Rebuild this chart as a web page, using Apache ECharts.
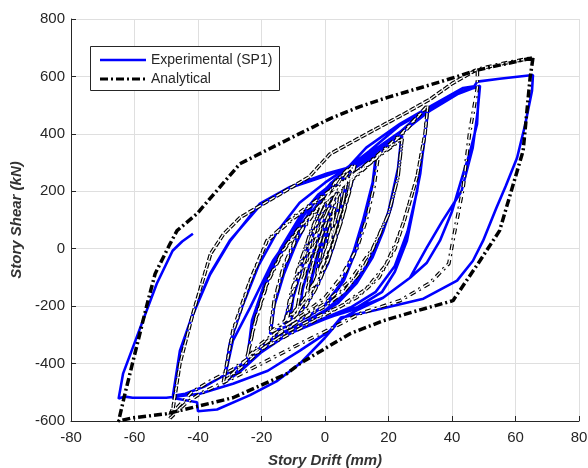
<!DOCTYPE html>
<html>
<head>
<meta charset="utf-8">
<script src="https://cdn.jsdelivr.net/npm/echarts@6/dist/echarts.min.js"></script>
<style>
html,body{margin:0;padding:0;background:#fff;}
#chart{width:588px;height:468px;}
</style>
</head>
<body>
<div id="chart"></div>
<script>
// ---------- axis ticks ----------
const xTicks = [-80, -60, -40, -20, 0, 20, 40, 60, 80];
const yTicks = [-600, -400, -200, 0, 200, 400, 600, 800];

// ---------- Experimental (SP1) : [drift mm, shear kN] ----------
const expSmallA = [[0,0],[1,55],[2,105],[3,145],[2.3,80],[1,15],[-1,-55],[-2,-95],[-3,-125],[-2.2,-60],[-1,-5],[0.5,60],[2,115],[3,140],[2.2,75],[0.5,0],[-2,-90],[-4,-150],[-5,-170],[-4.2,-100],[-2.5,-20],[0,80],[2,150],[4,200],[5,220],[4.3,150],[2,50],[-1,-70],[-3,-140],[-5,-175]];
const expSmallB = [[-4,-100],[-2,-10],[1,100],[3,170],[5.5,235],[7,262],[6,190],[3.5,80],[0,-50],[-4,-150],[-7,-205],[-8,-215],[-7,-140],[-4.5,-40],[-1,80],[3,190],[6,250],[7.5,270],[6.5,200],[3.5,70],[-1,-80],[-5,-170],[-9,-230],[-11,-248],[-10,-170],[-7,-60],[-3,70],[2,190],[6,262],[9,290],[8,220],[5,100],[1,-50],[-4,-160],[-8,-220],[-12,-255]];
const expSmallC = [[-10.5,-170],[-8,-70],[-4.5,50],[-1,150],[3,225],[6.5,265],[9.5,295],[8.5,230],[6,130],[2.5,0],[-2,-120],[-6,-200],[-10,-240],[-13,-262]];
const expCycle16 = [[-11,-180],[-8,-70],[-5,40],[-1,150],[4,230],[9,280],[13,310],[16.4,330],[15.5,250],[13,120],[10,0],[6,-110],[1,-190],[-5,-235],[-10,-260],[-14,-280],[-17.3,-296],[-16,-200],[-13,-80],[-9,40],[-4,150],[2,230],[8,280],[13,305],[16,322],[15,230],[12,100],[9,-10],[5,-120],[0,-195],[-6,-240],[-12,-270],[-17,-290]];
const expCycle24 = [[-16,-200],[-13,-90],[-9,20],[-4,130],[2,220],[8,280],[14,320],[19,360],[24.3,394],[23.5,300],[21,150],[18.3,60],[15,-30],[10,-120],[4,-190],[-3,-240],[-10,-280],[-16,-310],[-20,-345],[-24.6,-390],[-23,-270],[-20,-160],[-15,-40],[-10,60],[-4,160],[3,240],[10,300],[17,350],[24,385],[23,280],[20,130],[17,30],[13,-60],[7,-150],[0,-215],[-8,-265],[-15,-300],[-20,-340],[-24.5,-385]];
const expCycle32 = [[-23,-250],[-19,-120],[-14,0],[-8,110],[-2,190],[5,250],[12,300],[20,370],[27,440],[32.4,485],[31.5,400],[30,261],[27.5,120],[25.8,28],[22,-80],[18,-150],[10,-205],[0,-245],[-10,-290],[-18,-340],[-25,-400],[-32,-470],[-29,-320],[-23.6,-205],[-16.4,-42],[-12,28],[-5,120],[2,195],[10,270],[18,340],[26,420],[32.4,475],[31,350],[29,200],[26,60],[22,-60],[16,-150],[8,-205],[-2,-250],[-12,-300],[-20,-360],[-27,-430],[-32,-468]];
const expCycle48 = [[-30,-330],[-26,-200],[-21,-60],[-15,60],[-8,160],[0,230],[8,290],[15,340],[24,410],[33,480],[42,540],[48.8,568],[48.2,500],[47.9,435],[45.5,330],[43.5,261],[40,130],[36.2,28],[32,-50],[26.8,-101],[18.3,-171],[7.9,-216],[-2,-250],[-12,-300],[-22,-370],[-30,-430],[-38,-480],[-44,-505],[-47.9,-512],[-45.7,-355],[-41.6,-226],[-36.2,-87],[-30,28],[-20.5,150],[-11,212],[0.6,255],[7.2,282],[14,340],[23.6,430],[33,488],[43.5,550],[48.8,565],[48,470],[46.5,350],[43,200],[37,97],[32,3],[26.8,-101],[18.3,-171],[10,-215],[5,-245],[0,-310],[-7.9,-400],[-15,-460],[-23.6,-510],[-34,-560],[-40,-566],[-40.3,-535],[-47.9,-520]];
const expCycle65 = [[-45.7,-360],[-41.6,-230],[-36.2,-90],[-30,25],[-20.5,157],[-11,215],[0.6,262],[7.2,282],[13,352],[23.6,435],[33,495],[43.5,560],[47,566],[48,582],[55,592],[65.5,605],[65.2,550],[63,430],[60.5,317],[57,220],[54,143],[49.8,28],[46.6,-42],[41.6,-111],[31,-174],[15,-216],[5,-240],[1.6,-285],[-7.9,-355],[-18,-425],[-29,-470],[-39.4,-505],[-50,-519],[-60.6,-519],[-63,-515],[-65,-522],[-63.6,-435],[-57,-240],[-53,-122],[-48,-7],[-45,25],[-41.6,52]];

// ---------- Analytical ----------
const anaSmall = [[0,0],[1.5,70],[3,140],[2.2,70],[0.5,-10],[-1.5,-70],[-3,-120],[-2,-50],[-0.5,30],[1.5,100],[3,140],[2,60],[0,-30],[-3,-110],[-6,-180],[-4.8,-100],[-3,-20],[0,80],[2.5,150],[5,205],[4,130],[2,40],[-1,-60],[-4,-140],[-6,-180],[-5,-100],[-2.5,0],[0.5,100],[3,170],[5,205],[4,130],[1,10],[-3,-110],[-6,-180],[-9,-225],[-7.5,-130],[-5,-30],[-1,90],[3,180],[7,250],[5.8,170],[3,60],[-1,-70],[-5,-160],[-9,-225],[-7.5,-130],[-4,-10],[0,110],[4,200],[7,250],[5.5,150],[2,30],[-3,-110],[-8,-200],[-12,-250],[-10,-150],[-7,-40],[-3,80],[2,190],[6,260],[9,290],[7.5,200],[4.5,80],[0,-60],[-5,-170],[-9,-220],[-12,-250],[-10,-150],[-6,-30],[-2,100],[3,200],[9,290]];
const anaSmallB = [[7.8,210],[5.5,110],[2,-10],[-2,-120],[-6,-200],[-10,-240],[-12.5,-255],[-11,-170],[-8.5,-70],[-5,40],[-1,150],[3,230],[7,275],[9.5,295],[8,215],[5,90],[1,-40],[-3,-140],[-7,-210],[-11,-245],[-12,-250],[-10.5,-160],[-8,-60],[-4.5,60],[-0.5,160],[4,240],[8.5,285]];
const anaCycle16 = [[8,210],[5,90],[1,-40],[-4,-140],[-9,-210],[-13,-255],[-17.3,-290],[-16,-180],[-13,-60],[-9,40],[-4,120],[2,190],[9,260],[16.7,320],[15.5,220],[13,100],[10,0],[6,-90],[0,-170],[-7,-230],[-13,-270],[-17.3,-292],[-16,-185],[-13,-65],[-9,35],[-4,115],[2,185],[9,255],[16.7,318]];
const anaCycle24 = [[15.5,220],[13,100],[10,0],[5,-100],[0,-170],[-7,-230],[-14,-280],[-20,-330],[-24.6,-380],[-22,-250],[-18,-110],[-13,0],[-7,90],[0,170],[8,240],[16,320],[24.3,385],[23,250],[20,120],[16,20],[12,-70],[6,-150],[0,-200],[-8,-250],[-15,-300],[-20,-340],[-24.6,-382],[-22,-255],[-18,-115],[-13,-5],[-7,85],[0,165],[8,235],[16,315],[24.3,382]];
const anaCycle32 = [[23,250],[20,120],[15,0],[8,-110],[0,-190],[-8,-250],[-16,-300],[-24,-380],[-32,-465],[-29,-285],[-23.6,-111],[-18.3,28],[-10,110],[0,190],[8,250],[16,320],[24,400],[32.4,500],[31.5,400],[29,250],[25,100],[22.7,28],[19,-60],[13,-140],[5,-200],[-3,-240],[-12,-290],[-20,-350],[-26,-410],[-32,-465],[-29,-290],[-23.6,-115],[-18.3,25],[-10,105],[0,185],[8,245],[16,315],[24,395],[32.4,498]];
const anaCycle48 = [[31.5,400],[29,250],[25,100],[22,0],[17,-100],[10,-170],[0,-230],[-10,-290],[-20,-350],[-29,-420],[-36,-460],[-42,-500],[-48.8,-580],[-47.9,-555],[-45.7,-400],[-41.6,-226],[-36,-17],[-32,50],[-26.8,108],[-17.3,170],[-5,250],[1.6,330],[15,411],[25,470],[33,520],[40,575],[48,625],[48,561],[45.5,400],[43.5,212],[40.3,28],[39,-52],[33,-120],[23.6,-181],[11,-226],[2.5,-275],[-7.9,-331],[-20,-400],[-29,-450],[-39.4,-505],[-44,-540],[-48.8,-590],[-47.9,-560],[-45.7,-400],[-41.6,-226],[-36,-17],[-32,50],[-26.8,108],[-17.3,170],[-5,250],[1.6,330],[15,411],[25,470],[33,520],[40,575],[48,625],[56,645],[65.5,665]];
const anaOuter = [[65.5,665],[64.6,595],[62.4,341],[55,63],[48.8,-42],[40.3,-181],[29,-216],[18.3,-251],[7.9,-296],[2.5,-331],[-7.9,-400],[-12,-435],[-29,-519],[-39.4,-547],[-50,-575],[-60.6,-589],[-65,-600],[-63,-505],[-56,-192],[-53.5,-87],[-48.8,17],[-46.6,63],[-40.3,122],[-26.8,296],[-8,401],[2,455],[11,495],[20,528],[36,580],[48,622],[65.5,665]];

const expData = [].concat(expSmallA, expSmallB, expSmallC, expCycle16, expCycle24, expCycle32, expCycle48, expCycle65);
const anaInner = [].concat(anaSmall, anaSmallB, anaCycle16, anaCycle24, anaCycle32, anaCycle48);

const FONT = '"Liberation Sans", Arial, sans-serif';
const TXT = '#262626';
const DASH = [8, 3, 2, 3];
const DASH_IN = [6, 4, 2, 4];

const chart = echarts.init(document.getElementById('chart'), null, {renderer: 'canvas'});
chart.setOption({
  animation: false,
  backgroundColor: '#fff',
  grid: {left: 71, right: 9, top: 19, bottom: 47, containLabel: false, outerBoundsMode: 'none'},
  xAxis: {
    type: 'value', min: xTicks[0], max: xTicks[xTicks.length - 1], interval: 20,
    name: 'Story Drift (mm)', nameLocation: 'middle', nameGap: 32,
    nameTextStyle: {fontFamily: FONT, fontSize: 15, fontWeight: 'bold', fontStyle: 'italic', color: '#333'},
    axisLine: {show: true, onZero: false, lineStyle: {color: TXT, width: 1}},
    axisTick: {show: true, inside: true, length: 5, lineStyle: {color: TXT}},
    axisLabel: {fontFamily: FONT, fontSize: 15, color: TXT, margin: 9},
    splitLine: {show: true, lineStyle: {color: '#dfdfdf', width: 1}}
  },
  yAxis: {
    type: 'value', min: yTicks[0], max: yTicks[yTicks.length - 1], interval: 200,
    name: 'Story Shear (kN)', nameLocation: 'middle', nameGap: 43, nameRotate: 90,
    nameTextStyle: {fontFamily: FONT, fontSize: 15, fontWeight: 'bold', fontStyle: 'italic', color: '#333'},
    axisLine: {show: true, onZero: false, lineStyle: {color: TXT, width: 1}},
    axisTick: {show: true, inside: true, length: 5, lineStyle: {color: TXT}},
    axisLabel: {fontFamily: FONT, fontSize: 15, color: TXT, margin: 6},
    splitLine: {show: true, lineStyle: {color: '#dfdfdf', width: 1}}
  },
  series: [
    {name: 'Experimental (SP1)', type: 'line', data: expData, showSymbol: false, symbol: 'none',
     lineStyle: {color: '#0000ff', width: 2.6}, z: 2},
    {name: 'Analytical', type: 'line', data: anaInner, showSymbol: false, symbol: 'none',
     lineStyle: {color: '#000', width: 3.6, type: DASH_IN}, z: 3},
    {name: 'AnalyticalCore', type: 'line', data: anaInner, showSymbol: false, symbol: 'none',
     lineStyle: {color: '#fff', width: 1.3, type: DASH_IN}, z: 4},
    {name: 'Analytical', type: 'line', data: anaOuter, showSymbol: false, symbol: 'none',
     lineStyle: {color: '#000', width: 3.5, type: DASH}, z: 5}
  ],
  graphic: [
    {type: 'rect', shape: {x: 90.5, y: 46.5, width: 189, height: 44}, style: {fill: '#fff', stroke: TXT, lineWidth: 1}, z: 100},
    {type: 'line', shape: {x1: 100, y1: 60, x2: 146, y2: 60}, style: {stroke: '#0000ff', lineWidth: 2.5}, z: 101},
    {type: 'line', shape: {x1: 100, y1: 79, x2: 146, y2: 79}, style: {stroke: '#000', lineWidth: 3, lineDash: DASH}, z: 101},
    {type: 'text', x: 151, y: 60, style: {text: 'Experimental (SP1)', fontFamily: FONT, fontSize: 14, fill: TXT, verticalAlign: 'middle', align: 'left'}, z: 101},
    {type: 'text', x: 151, y: 79, style: {text: 'Analytical', fontFamily: FONT, fontSize: 14, fill: TXT, verticalAlign: 'middle', align: 'left'}, z: 101}
  ]
});
</script>
</body>
</html>
